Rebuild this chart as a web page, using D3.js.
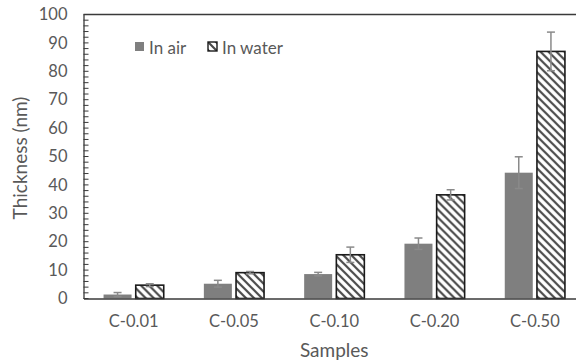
<!DOCTYPE html>
<html><head><meta charset="utf-8">
<script src="https://cdn.jsdelivr.net/npm/d3@7"></script>
<style>body{margin:0;background:#fff}svg{display:block}text{font-family:Lato,"Open Sans",sans-serif;fill:#595959}</style>
</head><body><svg id="c" width="576" height="362"></svg>
<script>
const categories = ["C-0.01","C-0.05","C-0.10","C-0.20","C-0.50"];
const seriesNames = ["In air","In water"];
const airValues = [1.4, 5.2, 8.6, 19.3, 44.3];
const airErrors = [0.7, 1.2, 0.6, 2.0, 5.6];
const waterValues = [4.7, 9.1, 15.4, 36.5, 87.0];
const waterErrors = [0.5, 0.4, 2.7, 1.8, 6.8];
const yTicks = [0,10,20,30,40,50,60,70,80,90,100];

const svg = d3.select("#c");
const L = 83.5, T = 14.5, B = 298.5, R = 585;
const defs = svg.append("defs");
const pat = defs.append("pattern").attr("id","hatch").attr("patternUnits","userSpaceOnUse")
  .attr("width",8).attr("height",8);
pat.append("rect").attr("width",8).attr("height",8).attr("fill","#fff");
pat.append("path").attr("d","M-2,-2 L10,10 M-2,6 L2,10 M6,-2 L10,2").attr("stroke","#4a4a4a").attr("stroke-width",2.2);

const x0 = d3.scaleBand().domain(categories).range([L,R]).paddingInner(0.4).paddingOuter(0.2);
const x1 = d3.scaleBand().domain(seriesNames).range([0,x0.bandwidth()]).paddingInner(0.13);
const y = d3.scaleLinear().domain([0,100]).range([B,T]);

// top border
svg.append("line").attr("x1",L).attr("x2",576).attr("y1",T).attr("y2",T).attr("stroke","#3a3a3a").attr("stroke-width",1.3);

const data = categories.map((c,i)=>({c, vals:[
  {s:"In air", v:airValues[i], e:airErrors[i]},
  {s:"In water", v:waterValues[i], e:waterErrors[i]}]}));

const g = svg.selectAll("g.cat").data(data).join("g").attr("transform",d=>`translate(${x0(d.c)},0)`);
g.selectAll("rect").data(d=>d.vals).join("rect")
  .attr("x",d=>x1(d.s)).attr("width",x1.bandwidth())
  .attr("y",d=>y(d.v)).attr("height",d=>y(0)-y(d.v))
  .attr("fill",d=>d.s==="In air"?"#7f7f7f":"url(#hatch)")
  .attr("stroke",d=>d.s==="In air"?"none":"#1a1a1a").attr("stroke-width",1.6);
// error bars
const eb = g.selectAll("g.eb").data(d=>d.vals).join("g").attr("class","eb")
  .attr("stroke","#8a8a8a").attr("stroke-width",1.5);
eb.append("line").attr("x1",d=>x1(d.s)+x1.bandwidth()/2).attr("x2",d=>x1(d.s)+x1.bandwidth()/2)
  .attr("y1",d=>y(d.v-d.e)).attr("y2",d=>y(d.v+d.e));
eb.append("line").attr("x1",d=>x1(d.s)+x1.bandwidth()/2-4).attr("x2",d=>x1(d.s)+x1.bandwidth()/2+4)
  .attr("y1",d=>y(d.v+d.e)).attr("y2",d=>y(d.v+d.e));
eb.append("line").attr("x1",d=>x1(d.s)+x1.bandwidth()/2-4).attr("x2",d=>x1(d.s)+x1.bandwidth()/2+4)
  .attr("y1",d=>y(d.v-d.e)).attr("y2",d=>y(d.v-d.e));

// y axis
const yAxis = svg.append("g").attr("transform",`translate(${L},0)`)
  .call(d3.axisLeft(y).tickValues(yTicks).tickSize(0).tickPadding(16));
yAxis.select(".domain").attr("stroke","#3a3a3a").attr("stroke-width",1.3);
yAxis.selectAll("text").style("font-size","16.5px").attr("fill","#595959");
// minor inner ticks
const minor = d3.range(0,101,2);
svg.append("g").selectAll("line").data(minor).join("line")
  .attr("x1",L).attr("x2",L+5).attr("y1",d=>y(d)).attr("y2",d=>y(d))
  .attr("stroke","#3a3a3a").attr("stroke-width",1);

// x axis
const xAxis = svg.append("g").attr("transform",`translate(0,${B})`)
  .call(d3.axisBottom(x0).tickSize(0).tickPadding(17));
xAxis.select(".domain").attr("stroke","#3a3a3a").attr("stroke-width",1.3);
xAxis.selectAll("text").style("font-size","16.5px").attr("fill","#595959");

// titles
svg.append("text").attr("x",(L+R)/2).attr("y",357).attr("text-anchor","middle").style("font-size","19px").text("Samples");
svg.append("text").attr("transform","translate(27,158) rotate(-90)").attr("text-anchor","middle").style("font-size","19px").text("Thickness (nm)");

// legend
const legX = [135, 208];
const lg = svg.selectAll("g.leg").data(seriesNames).join("g").attr("class","leg")
  .attr("transform",(d,i)=>`translate(${legX[i]},42)`);
lg.append("rect").attr("width",9).attr("height",9)
  .attr("fill",d=>d==="In air"?"#7f7f7f":"url(#hatch)")
  .attr("stroke",d=>d==="In air"?"none":"#1a1a1a").attr("stroke-width",1.4);
lg.append("text").attr("x",14).attr("y",12).style("font-size","17px").text(d=>d);
</script></body></html>
